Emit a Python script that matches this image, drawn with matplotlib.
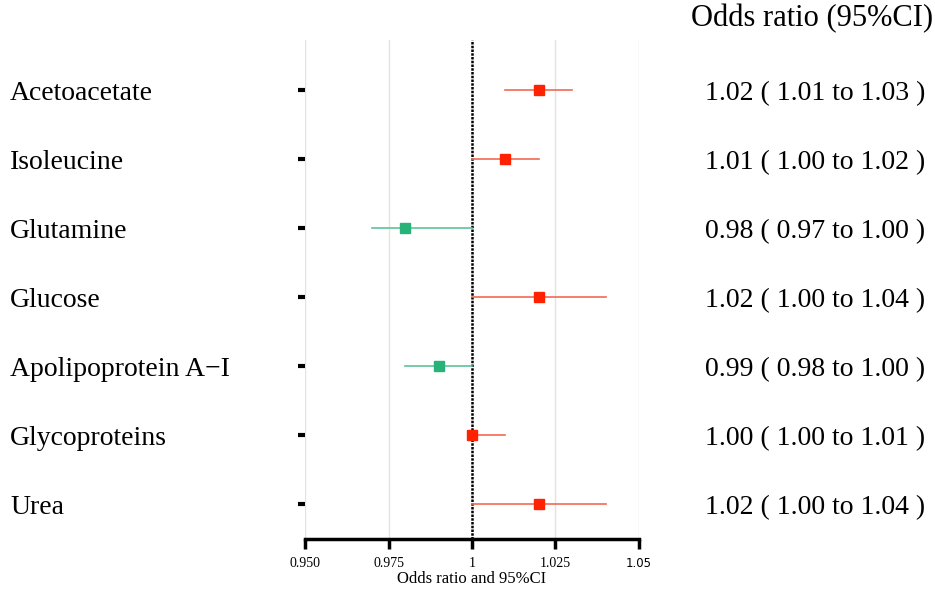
import numpy as np
import matplotlib
matplotlib.use('Agg')
import matplotlib.pyplot as plt
from matplotlib.transforms import blended_transform_factory

# data
names = ['Acetoacetate', 'Isoleucine', 'Glutamine', 'Glucose',
         'Apolipoprotein A\u2212I', 'Glycoproteins', 'Urea']
odds = [1.02, 1.01, 0.98, 1.02, 0.99, 1.00, 1.02]
lower = [1.01, 1.00, 0.97, 1.00, 0.98, 1.00, 1.00]
upper = [1.03, 1.02, 1.00, 1.04, 1.00, 1.01, 1.04]
or_labels = ['1.02 ( 1.01 to 1.03 )', '1.01 ( 1.00 to 1.02 )',
             '0.98 ( 0.97 to 1.00 )', '1.02 ( 1.00 to 1.04 )',
             '0.99 ( 0.98 to 1.00 )', '1.00 ( 1.00 to 1.01 )',
             '1.02 ( 1.00 to 1.04 )']
xticks = [0.950, 0.975, 1.0, 1.025, 1.05]
xtick_labels = ['0.950', '0.975', '1', '1.025', '1.05']

serif = 'Liberation Serif'
fig = plt.figure(figsize=(9.35, 5.93), dpi=100)
ax = fig.add_axes([305 / 935, 54 / 593, 334 / 935, 499 / 593])

n = len(names)
ypos = np.arange(n, 0, -1)

for x in [0.95, 0.975, 1.025, 1.05]:
    ax.axvline(x, color='#e3e3e3', lw=1, zorder=0)
ax.axvline(1.0, color='black', lw=1.8, ls=(0, (1, 0.5)), zorder=1)

for y, o, lo, hi in zip(ypos, odds, lower, upper):
    if o >= 1:
        lc, mc = '#f26a55', '#ff2200'
    else:
        lc, mc = '#5cc49a', '#27b27a'
    ax.plot([lo, hi], [y, y], color=lc, lw=1.2, zorder=2)
    ax.plot(o, y, marker='s', ms=7, color=mc, zorder=3)

ax.set_xlim(0.95, 1.05)
ax.set_ylim(1 - 35 / 69, n + 50 / 69)
ax.set_xticks(xticks)
ax.set_xticklabels(xtick_labels, family=serif, fontsize=10)
ax.set_yticks(ypos)
ax.set_yticklabels([])
ax.tick_params(axis='y', length=5, width=3, color='black')
ax.tick_params(axis='x', length=7, width=2.5, color='black', pad=6)

for s in ['top', 'right', 'left']:
    ax.spines[s].set_visible(False)
ax.spines['bottom'].set_linewidth(2.5)

ax.set_xlabel('Odds ratio and 95%CI', family=serif, fontsize=12, labelpad=1)

tr = blended_transform_factory(fig.transFigure, ax.transData)
off = 10 / 69
for y, name, lab in zip(ypos, names, or_labels):
    ax.text(10 / 935, y - off, name, transform=tr, family=serif, fontsize=20,
            va='baseline', ha='left')
    ax.text(705 / 935, y - off, lab, transform=tr, family=serif, fontsize=20,
            va='baseline', ha='left')

fig.text(933 / 935, 1 - 19 / 593, 'Odds ratio (95%CI)', family=serif,
         fontsize=22, va='center', ha='right')

# the last tick label is in a sans font in the original
fig.canvas.draw()
last = ax.xaxis.get_major_ticks()[-1].label1
last.set_family('DejaVu Sans')
last.set_fontsize(8.5)

plt.savefig('out.png', dpi=100)
